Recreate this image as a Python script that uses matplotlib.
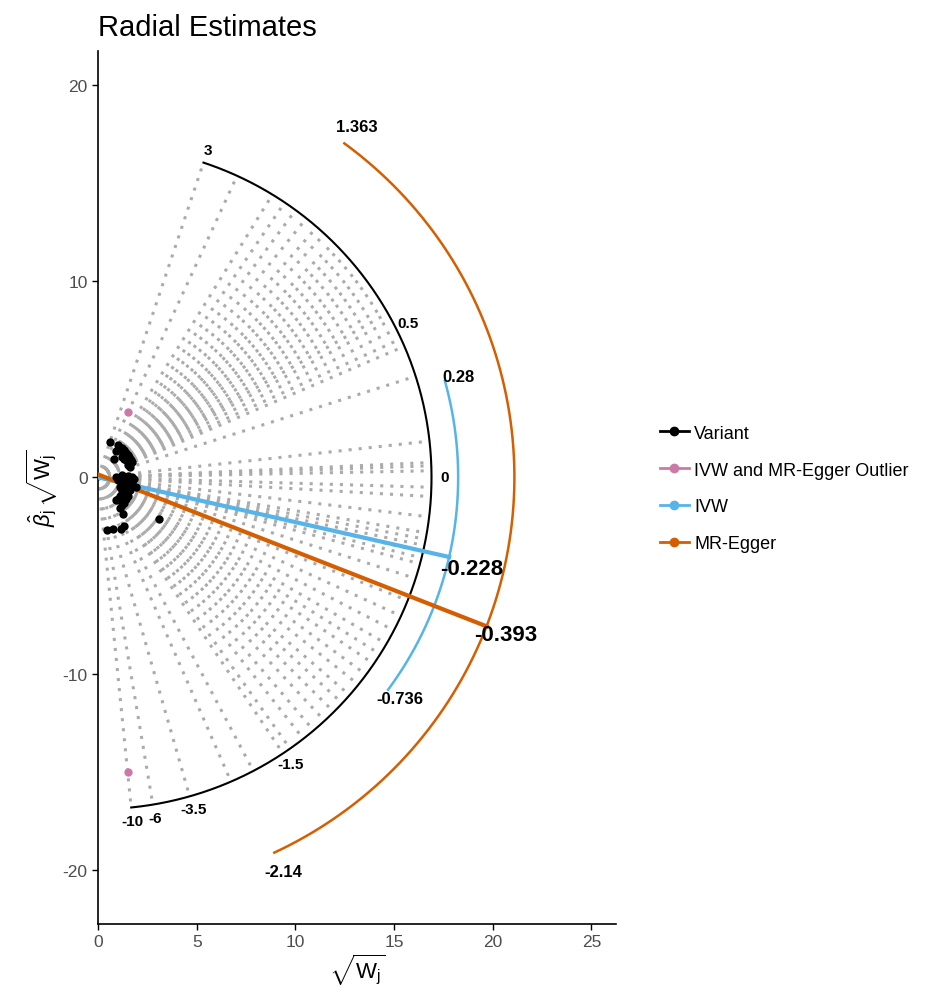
import numpy as np
import matplotlib
matplotlib.use('Agg')
import matplotlib.pyplot as plt
from matplotlib.lines import Line2D

plt.rcParams['font.family'] = ['Liberation Sans', 'DejaVu Sans']
plt.rcParams['axes.unicode_minus'] = False
plt.rcParams['mathtext.fontset'] = 'custom'
plt.rcParams['mathtext.rm'] = 'Liberation Sans'
plt.rcParams['mathtext.it'] = 'Liberation Sans:italic'

# ratio estimates (beta_j) and sqrt(W_j) per variant
ratio = [3.0, 1.63, 1.48, 1.36, 1.25, 1.15, 1.08, 1.0, 0.95, 0.9, 0.85, 0.8,
         0.76, 0.72, 0.68, 0.64, 0.6, 0.57, 0.54, 0.5, 0.46, 0.43, 0.32, 0.11,
         0.045, 0.035, 0.02, -0.03, -0.058, -0.12, -0.17, -0.19, -0.21, -0.23,
         -0.25, -0.27, -0.32, -0.4, -0.46, -0.52, -0.58, -0.63, -0.68, -0.74,
         -0.8, -0.87, -0.93, -1.0, -1.08, -1.18, -1.28, -1.42, -1.5, -1.9,
         -2.3, -3.5, -6.0]
sqrt_w = [0.6, 1.0, 0.9, 1.1, 1.2, 0.8, 1.3, 1.25, 1.35, 1.4, 1.2, 1.45,
          1.5, 1.3, 1.55, 1.4, 1.6, 1.5, 1.65, 1.55, 1.7, 1.5, 1.6, 1.2,
          1.5, 0.9, 1.7, 1.3, 1.8, 1.0, 1.6, 1.4, 1.7, 1.2,
          1.9, 1.5, 1.3, 1.6, 1.1, 1.4, 1.2, 1.5, 3.1, 1.3,
          1.4, 1.1, 1.2, 1.3, 1.0, 1.2, 0.9, 1.1, 1.25, 1.3,
          1.15, 0.75, 0.45]

# outliers (IVW and MR-Egger)
out_ratio = [2.18, -10.0]
out_sqrt_w = [1.52, 1.5]

# scale labels on the black circle
scale_vals = [3, 0.5, 0, -1.5, -3.5, -6, -10]
scale_text = ['3', '0.5', '0', '-1.5', '-3.5', '-6', '-10']

ivw_est = -0.228
ivw_ci = [0.28, -0.736]
egger_est = -0.393
egger_int = 0.15
egger_ci = [1.363, -2.14]

R = 16.9
R_ivw = 18.25
R_egger = 21.1

c_ivw = '#56B4E9'
c_egger = '#D55E00'
c_out = '#CC79A7'

fig = plt.figure(figsize=(9.3, 10.03), dpi=100)
ax = fig.add_axes([0.1054, 0.0778, 0.557, 0.870])

all_ratio = ratio + out_ratio
# dotted lines to the scale circle
for b in all_ratio:
    th = np.arctan(b)
    ax.plot([0, R * np.cos(th)], [0, R * np.sin(th)], color='#ababab',
            lw=2.2, linestyle=(0, (1, 2.3)), zorder=1)

# scale circle
th = np.linspace(np.arctan(min(all_ratio)), np.arctan(max(all_ratio)), 300)
ax.plot(R * np.cos(th), R * np.sin(th), color='black', lw=1.5, zorder=2)
for v, t in zip(scale_vals, scale_text):
    a = np.arctan(v)
    ax.text(1.04 * R * np.cos(a), 1.04 * R * np.sin(a), t, fontsize=11,
            fontweight='bold', ha='center', va='center', zorder=5)

# IVW CI arc and line
th = np.linspace(np.arctan(ivw_ci[1]), np.arctan(ivw_ci[0]), 200)
ax.plot(R_ivw * np.cos(th), R_ivw * np.sin(th), color=c_ivw, lw=1.8, zorder=2)
for v in ivw_ci:
    a = np.arctan(v)
    ax.text(1.04 * R_ivw * np.cos(a), 1.04 * R_ivw * np.sin(a), str(v),
            fontsize=12, fontweight='bold', ha='center', va='center', zorder=5)
a = np.arctan(ivw_est)
ax.plot([0, R_ivw * np.cos(a)], [0, R_ivw * np.sin(a)], color=c_ivw, lw=3, zorder=3)
ax.text(1.065 * R_ivw * np.cos(a), 1.065 * R_ivw * np.sin(a) - 0.3, str(ivw_est),
        fontsize=16, fontweight='bold', ha='center', va='center', zorder=5)

# MR-Egger CI arc and line
th = np.linspace(np.arctan(egger_ci[1]), np.arctan(egger_ci[0]), 200)
ax.plot(R_egger * np.cos(th), R_egger * np.sin(th), color=c_egger, lw=1.8, zorder=2)
for v in egger_ci:
    a = np.arctan(v)
    ax.text(1.05 * R_egger * np.cos(a), 1.05 * R_egger * np.sin(a), str(v),
            fontsize=12, fontweight='bold', ha='center', va='center', zorder=5)
k = 1 + egger_est ** 2
x_end = (2 * egger_int * -egger_est + np.sqrt((2 * egger_int * egger_est) ** 2
         - 4 * k * (egger_int ** 2 - R_egger ** 2))) / (2 * k)
ax.plot([0, x_end], [egger_int, egger_int + egger_est * x_end], color=c_egger,
        lw=3, zorder=3)
ax.text(x_end + 0.95, egger_int + egger_est * x_end - 0.4, str(egger_est),
        fontsize=16, fontweight='bold', ha='center', va='center', zorder=5)

# variant points
xs = np.array(sqrt_w)
ax.scatter(xs, xs * np.array(ratio), s=36, color='black', zorder=4, linewidths=0)
xo = np.array(out_sqrt_w)
ax.scatter(xo, xo * np.array(out_ratio), s=36, color=c_out, zorder=4, linewidths=0)

ax.set_xlim(0, 26.25)
ax.set_ylim(-22.75, 21.7)
ax.set_xticks([0, 5, 10, 15, 20, 25])
ax.set_yticks([-20, -10, 0, 10, 20])
for s in ['top', 'right']:
    ax.spines[s].set_visible(False)
for s in ['left', 'bottom']:
    ax.spines[s].set_linewidth(1.2)
ax.tick_params(labelsize=12.5, labelcolor='#4d4d4d', length=4, width=1)
ax.set_xlabel(r'$\sqrt{\mathrm{W}_\mathrm{j}}$', fontsize=16, labelpad=2)
ax.set_ylabel(r'$\hat{\beta}_\mathrm{j}\,\sqrt{\mathrm{W}_\mathrm{j}}$', fontsize=16, labelpad=2)
ax.set_title('Radial Estimates', fontsize=21, loc='left', x=0.0, pad=12)

handles = [
    Line2D([], [], color='black', marker='o', markersize=6, lw=2),
    Line2D([], [], color=c_out, marker='o', markersize=6, lw=2),
    Line2D([], [], color=c_ivw, marker='o', markersize=6, lw=2),
    Line2D([], [], color=c_egger, marker='o', markersize=6, lw=2),
]
labels = ['Variant', 'IVW and MR-Egger Outlier', 'IVW', 'MR-Egger']
fig.legend(handles, labels, loc='center left', bbox_to_anchor=(0.692, 0.512),
           frameon=False, fontsize=13, handlelength=1.6, handletextpad=0.3,
           labelspacing=1.1)

fig.savefig('out.png', dpi=100)
